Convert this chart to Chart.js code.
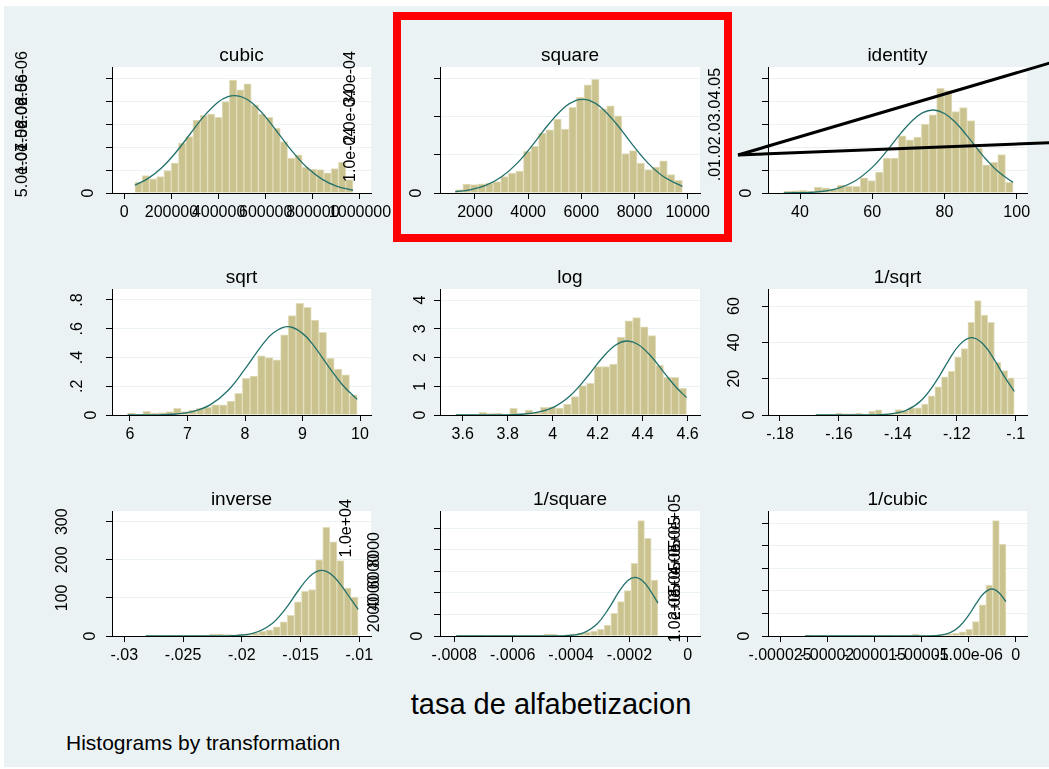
<!DOCTYPE html>
<html>
<head>
<meta charset="utf-8">
<script src="https://cdn.jsdelivr.net/npm/chart.js@4.4.0/dist/chart.umd.min.js"></script>
<style>
  html, body { margin: 0; padding: 0; background: #fff; }
  #page { position: relative; width: 1049px; height: 769px; overflow: hidden; font-family: "Liberation Sans", Arial, sans-serif; }
  #bg { position: absolute; left: 4px; top: 6px; width: 1045px; height: 761px; background: #eaf2f3; }
  canvas { position: absolute; }
  .txt { position: absolute; color: #000; white-space: nowrap; line-height: 1; }
  #xtitle { left: 551px; top: 690px; font-size: 29px; transform: translateX(-50%); }
  #note { left: 66px; top: 732px; font-size: 21px; }
  #marks { position: absolute; left: 0; top: 0; }
</style>
</head>
<body>
<div id="page">
  <div id="bg"></div>
  <div class="txt" id="xtitle">tasa de alfabetizacion</div>
  <div class="txt" id="note">Histograms by transformation</div>
  <svg id="marks" width="1049" height="769">
    <rect x="397" y="16" width="331" height="222" fill="none" stroke="#ff0000" stroke-width="8"/>
    <line x1="738" y1="155" x2="1055" y2="61.5" stroke="#000" stroke-width="3"/>
    <line x1="738" y1="155" x2="1055" y2="142.5" stroke="#000" stroke-width="3"/>
  </svg>
</div>
<script>
// histogram heights (density), bin ranges and fitted normal curves per transformation
const cubicHist = [2.3e-7, 3.8e-7, 3.1e-7, 3.6e-7, 4.9e-7, 6.5e-7, 10.9e-7, 12.3e-7, 15.9e-7, 16.9e-7,
  17.2e-7, 16.5e-7, 19.9e-7, 24.6e-7, 22.5e-7, 23.8e-7, 19.2e-7, 17.2e-7, 16.5e-7, 14.1e-7,
  11.2e-7, 7.6e-7, 8.3e-7, 5.6e-7, 5.2e-7, 5.1e-7, 4.4e-7, 5.3e-7, 6.7e-7, 2.9e-7];
const cubicRange = [44700, 970300];
const cubicCurveX = [44700, 100000, 160000, 220000, 280000, 340000, 400000, 440000, 470000, 500000, 540000, 600000, 660000, 720000, 780000, 840000, 900000, 970300];
const cubicCurveY = [1.69e-7, 3.14e-7, 5.56e-7, 8.93e-7, 12.91e-7, 16.86e-7, 19.90e-7, 21.00e-7, 21.23e-7, 20.92e-7, 19.71e-7, 16.54e-7, 12.56e-7, 8.62e-7, 5.32e-7, 2.98e-7, 1.51e-7, 0.60e-7];

const squareHist = [0.9e-5, 2.3e-5, 2.2e-5, 2.4e-5, 2.6e-5, 3.0e-5, 4.3e-5, 5.2e-5, 5.7e-5, 10.9e-5,
  12.2e-5, 15.7e-5, 16.5e-5, 19.3e-5, 16.7e-5, 22.4e-5, 25.0e-5, 28.3e-5, 29.7e-5, 22.0e-5,
  22.8e-5, 20.2e-5, 10.3e-5, 11.1e-5, 7.8e-5, 6.1e-5, 6.8e-5, 8.4e-5, 4.8e-5, 3.3e-5];
const squareRange = [1260, 9801];
const squareCurveX = [1260, 1800, 2400, 3000, 3600, 4200, 4800, 5400, 5800, 6050, 6300, 6700, 7300, 7900, 8500, 9100, 9801];
const squareCurveY = [0.33e-5, 0.81e-5, 1.98e-5, 4.25e-5, 7.89e-5, 12.86e-5, 18.25e-5, 22.61e-5, 24.21e-5, 24.5e-5, 24.21e-5, 22.61e-5, 18.25e-5, 12.86e-5, 7.89e-5, 4.25e-5, 1.73e-5];

const identityHist = [.0007, .0010, .0012, .0007, .0026, .0023, .0017, .0035, .0029, .0029,
  .0066, .0055, .0092, .0153, .0153, .0251, .0233, .0245, .0302, .0343,
  .0459, .0449, .0357, .0375, .0318, .0197, .0124, .0134, .0168, .0047];
const identityRange = [35.5, 99];
const identityCurveX = [35.5, 44, 50, 55, 60, 64, 68, 71, 74, 77, 80, 83, 86, 89, 92, 95, 99];
const identityCurveY = [.00003, .00041, .00183, .00503, .01124, .01836, .02636, .03161, .03524, .0364, .03488, .03101, .02561, .01957, .01391, .00918, .00467];

const sqrtHist = [.012, .004, .026, .012, .016, .023, .046, .023, .035, .046,
  .053, .070, .070, .097, .151, .255, .271, .411, .399, .383,
  .557, .691, .777, .749, .661, .575, .394, .32, .28, .14];
const sqrtRange = [5.958, 9.950];
const sqrtCurveX = [5.958, 6.4, 6.8, 7.1, 7.4, 7.7, 8.0, 8.3, 8.5, 8.75, 9.0, 9.2, 9.45, 9.7, 9.95];
const sqrtCurveY = [.0001, .0009, .0070, .0251, .0724, .1692, .3203, .4875, .5736, .6146, .5678, .4789, .3390, .2068, .1089];

const logHist = [.03, .01, .01, .09, .05, .06, .03, .23, .05, .17,
  .09, .27, .28, .24, .38, .64, 1.02, 1.10, 1.68, 1.68,
  1.77, 2.70, 3.28, 3.39, 3.07, 2.76, 1.73, 1.31, 1.31, .93];
const logRange = [3.5695, 4.5951];
const logCurveX = [3.5695, 3.7, 3.8, 3.9, 4.0, 4.08, 4.16, 4.22, 4.28, 4.33, 4.38, 4.44, 4.5, 4.55, 4.5951];
const logCurveY = [0, .0007, .0072, .0532, .2594, .6865, 1.390, 1.982, 2.434, 2.574, 2.454, 2.017, 1.429, .957, .609];

const invSqrtHist = [.5, .5, .5, 1, .7, .7, 1, .5, 2, 2.8,
  .7, 1, 3, 2.5, 4, 4, 6, 10.5, 15.5, 21,
  24, 32, 36.5, 51, 63, 55, 51, 29, 24.5, 20.5];
const invSqrtRange = [-.16784, -.100504];
const invSqrtCurveX = [-.16784, -.16, -.15, -.143, -.137, -.132, -.127, -.123, -.119, -.115, -.111, -.107, -.104, -.100504];
const invSqrtCurveY = [0, 0, .039, .483, 2.667, 8.12, 18.60, 29.41, 38.76, 42.56, 38.97, 29.75, 21.54, 13.0];

const inverseHist = [2, 1.5, 0, 1, 2, 0, 1.5, 2, .5, 5,
  4.5, 4, 3, 5, 6, 8, 12, 16, 24, 37,
  54, 90, 117, 122, 200, 285, 247, 198, 126, 102];
const inverseRange = [-.028169, -.010101];
const inverseCurveX = [-.028169, -.024, -.021, -.019, -.0175, -.0163, -.0152, -.0143, -.0135, -.0128, -.0121, -.0114, -.0107, -.010101];
const inverseCurveY = [0, .003, .60, 7.51, 30.8, 70.6, 118.8, 153.9, 170.8, 169.6, 153.7, 127.1, 95.9, 70.2];

const invSquareHist = [60, 0, 60, 30, 0, 60, 60, 60, 30, 60,
  50, 40, 60, 180, 150, 60, 120, 190, 250, 340,
  460, 620, 1020, 2100, 3190, 4210, 6750, 10710, 9070, 5200];
const invSquareRange = [-7.935e-4, -1.0203e-4];
const invSquareCurveX = [-7.935e-4, -6e-4, -5e-4, -4.2e-4, -3.6e-4, -3.1e-4, -2.7e-4, -2.35e-4, -2.05e-4, -1.8e-4, -1.55e-4, -1.3e-4, -1.0203e-4];
const invSquareCurveY = [0, 0, .4, 26, 270, 1143, 2586, 4134, 5157, 5450, 5126, 4292, 3059];

const invCubicHist = [4000, 0, 4000, 0, 0, 0, 0, 0, 3000, 3000,
  0, 3000, 3000, 0, 3000, 3000, 8000, 3000, 3000, 4000,
  6000, 9000, 12000, 18000, 30000, 64000, 138000, 226000, 512000, 408000];
const invCubicRange = [-2.2352e-5, -1.0306e-6];
const invCubicCurveX = [-2.2352e-5, -1.4e-5, -1.1e-5, -9.5e-6, -8e-6, -7e-6, -6e-6, -5e-6, -4.2e-6, -3.4e-6, -2.55e-6, -1.8e-6, -1.0306e-6];
const invCubicCurveY = [0, 0, 12, 282, 3607, 13850, 40820, 91530, 143400, 188800, 208500, 193300, 152500];

// axis ticks and their labels
const cubicXTicks = [0, 200000, 400000, 600000, 800000, 1000000];
const cubicXLabels = ['0', '200000', '400000', '600000', '800000', '1000000'];
const cubicYTicks = [0, 5e-7, 1e-6, 1.5e-6, 2e-6, 2.5e-6];
const cubicYLabels = ['0', '5.0e-07', '1.0e-06', '1.5e-06', '2.0e-06', '2.5e-06'];
const squareXTicks = [2000, 4000, 6000, 8000, 10000];
const squareXLabels = ['2000', '4000', '6000', '8000', '10000'];
const squareYTicks = [0, 1e-4, 2e-4, 3e-4];
const squareYLabels = ['0', '1.0e-04', '2.0e-04', '3.0e-04'];
const identityXTicks = [40, 60, 80, 100];
const identityXLabels = ['40', '60', '80', '100'];
const identityYTicks = [0, .01, .02, .03, .04, .05];
const identityYLabels = ['0', '.01', '.02', '.03', '.04', '.05'];
const sqrtXTicks = [6, 7, 8, 9, 10];
const sqrtXLabels = ['6', '7', '8', '9', '10'];
const sqrtYTicks = [0, .2, .4, .6, .8];
const sqrtYLabels = ['0', '.2', '.4', '.6', '.8'];
const logXTicks = [3.6, 3.8, 4, 4.2, 4.4, 4.6];
const logXLabels = ['3.6', '3.8', '4', '4.2', '4.4', '4.6'];
const logYTicks = [0, 1, 2, 3, 4];
const logYLabels = ['0', '1', '2', '3', '4'];
const invSqrtXTicks = [-.18, -.16, -.14, -.12, -.1];
const invSqrtXLabels = ['-.18', '-.16', '-.14', '-.12', '-.1'];
const invSqrtYTicks = [0, 20, 40, 60];
const invSqrtYLabels = ['0', '20', '40', '60'];
const inverseXTicks = [-.03, -.025, -.02, -.015, -.01];
const inverseXLabels = ['-.03', '-.025', '-.02', '-.015', '-.01'];
const inverseYTicks = [0, 100, 200, 300];
const inverseYLabels = ['0', '100', '200', '300'];
const invSquareXTicks = [-.0008, -.0006, -.0004, -.0002, 0];
const invSquareXLabels = ['-.0008', '-.0006', '-.0004', '-.0002', '0'];
const invSquareYTicks = [0, 2000, 4000, 6000, 8000, 10000];
const invSquareYLabels = ['0', '2000', '4000', '6000', '8000', '1.0e+04'];
const invCubicXTicks = [-.000025, -.00002, -.000015, -.00001, -.000005, 0];
const invCubicXLabels = ['-.000025', '-.00002', '-.000015', '-.00001', '-5.00e-06', '0'];
const invCubicYTicks = [0, 1e5, 2e5, 3e5, 4e5, 5e5];
const invCubicYLabels = ['0', '1.0e+05', '2.0e+05', '3.0e+05', '4.0e+05', '5.0e+05'];

const FONT = '"Liberation Sans", Arial, sans-serif';
const BAR_FILL = '#cac38f';
const BAR_EDGE = '#e2ddbc';
const CURVE = '#23716b';
const GRID = '#eaf2f3';

// plot boxes (page pixels) and axis extents for each panel
const panels = [
  { title: 'cubic', box: [112, 67, 371, 193], x: [-52200, 1046700], yMax: 2.746e-6,
    hist: cubicHist, range: cubicRange, cx: cubicCurveX, cy: cubicCurveY,
    xt: cubicXTicks, xl: cubicXLabels, yt: cubicYTicks, yl: cubicYLabels, yOff: [23, 89, 89, 89, 89, 89] },
  { title: 'square', box: [440, 67, 700, 193], x: [684, 10463], yMax: 3.295e-4,
    hist: squareHist, range: squareRange, cx: squareCurveX, cy: squareCurveY,
    xt: squareXTicks, xl: squareXLabels, yt: squareYTicks, yl: squareYLabels, yOff: [23, 89, 89, 89] },
  { title: 'identity', box: [768, 67, 1027, 193], x: [31.14, 102.85], yMax: .05525,
    hist: identityHist, range: identityRange, cx: identityCurveX, cy: identityCurveY,
    xt: identityXTicks, xl: identityXLabels, yt: identityYTicks, yl: identityYLabels, yOff: [21, 52, 52, 52, 52, 52] },
  { title: 'sqrt', box: [112, 289, 371, 415], x: [5.687, 10.191], yMax: .8765,
    hist: sqrtHist, range: sqrtRange, cx: sqrtCurveX, cy: sqrtCurveY,
    xt: sqrtXTicks, xl: sqrtXLabels, yt: sqrtYTicks, yl: sqrtYLabels, yOff: [20, 34, 34, 34, 34] },
  { title: 'log', box: [440, 289, 700, 415], x: [3.499, 4.655], yMax: 4.383,
    hist: logHist, range: logRange, cx: logCurveX, cy: logCurveY,
    xt: logXTicks, xl: logXLabels, yt: logYTicks, yl: logYLabels, yOff: [19, 19, 19, 19, 19] },
  { title: '1/sqrt', box: [768, 289, 1027, 415], x: [-.18407, -.096164], yMax: 69.36,
    hist: invSqrtHist, range: invSqrtRange, cx: invSqrtCurveX, cy: invSqrtCurveY,
    xt: invSqrtXTicks, xl: invSqrtXLabels, yt: invSqrtYTicks, yl: invSqrtYLabels, yOff: [18, 33, 33, 33] },
  { title: 'inverse', box: [112, 511, 371, 636], x: [-.031047, -.009004], yMax: 328.1,
    hist: inverseHist, range: inverseRange, cx: inverseCurveX, cy: inverseCurveY,
    xt: inverseXTicks, xl: inverseXLabels, yt: inverseYTicks, yl: inverseYLabels, yOff: [21, 49, 49, 49] },
  { title: '1/square', box: [440, 511, 700, 636], x: [-.000849, .0000422], yMax: 11606,
    hist: invSquareHist, range: invSquareRange, cx: invSquareCurveX, cy: invSquareCurveY,
    xt: invSquareXTicks, xl: invSquareXLabels, yt: invSquareYTicks, yl: invSquareYLabels, yOff: [22, 65, 65, 65, 65, 93] },
  { title: '1/cubic', box: [768, 511, 1027, 636], x: [-2.6273e-5, 1.199e-6], yMax: 554570,
    hist: invCubicHist, range: invCubicRange, cx: invCubicCurveX, cy: invCubicCurveY,
    xt: invCubicXTicks, xl: invCubicXLabels, yt: invCubicYTicks, yl: invCubicYLabels, yOff: [23, 92, 92, 92, 92, 92] }
];

const LEFT = 110, RIGHT = 60, TOP = 45, BOTTOM = 45;
const TITLE_SIZE = 19;

// white plot region behind the bars
const plotFill = {
  id: 'plotFill',
  beforeDraw(chart) {
    const { ctx, chartArea: a } = chart;
    ctx.save();
    ctx.fillStyle = '#fff';
    ctx.fillRect(a.left, a.top, a.right - a.left, a.bottom - a.top);
    ctx.restore();
  }
};

// vertical y tick labels, each at its own distance from the axis
const yLabels = {
  id: 'yLabels',
  afterDraw(chart, args, opts) {
    const { ctx, chartArea } = chart;
    const scale = chart.scales.y;
    ctx.save();
    ctx.fillStyle = '#000';
    ctx.font = '16px ' + FONT;
    ctx.textAlign = 'center';
    ctx.textBaseline = 'middle';
    opts.values.forEach((v, i) => {
      ctx.save();
      ctx.translate(chartArea.left - opts.offsets[i], scale.getPixelForValue(v));
      ctx.rotate(-Math.PI / 2);
      ctx.fillText(opts.labels[i], 0, 0);
      ctx.restore();
    });
    ctx.restore();
  }
};

function binPoints(heights, range) {
  const w = (range[1] - range[0]) / heights.length;
  return heights.map((h, i) => ({ x: range[0] + w * (i + 0.5), y: h }));
}

const page = document.getElementById('page');
const marks = document.getElementById('marks');

panels.forEach(p => {
  const [L, T, R, B] = p.box;
  const canvas = document.createElement('canvas');
  canvas.width = LEFT + (R - L) + RIGHT;
  canvas.height = TOP + (B - T) + BOTTOM;
  canvas.style.left = (L - LEFT) + 'px';
  canvas.style.top = (T - TOP) + 'px';
  page.insertBefore(canvas, marks);

  new Chart(canvas, {
    type: 'bar',
    data: {
      datasets: [
        {
          type: 'line',
          data: p.cx.map((x, i) => ({ x: x, y: p.cy[i] })),
          borderColor: CURVE,
          borderWidth: 1.3,
          pointRadius: 0,
          tension: 0.4,
          fill: false,
          order: 0
        },
        {
          type: 'bar',
          data: binPoints(p.hist, p.range),
          backgroundColor: BAR_FILL,
          borderColor: BAR_EDGE,
          borderWidth: 1,
          barPercentage: 1,
          categoryPercentage: 1,
          order: 1
        }
      ]
    },
    options: {
      responsive: false,
      devicePixelRatio: 1,
      animation: false,
      events: [],
      layout: { padding: { left: 0, right: RIGHT, top: TOP - TITLE_SIZE * 1.2, bottom: 0 } },
      plugins: {
        legend: { display: false },
        tooltip: { enabled: false },
        title: {
          display: true,
          fullSize: false,
          text: p.title,
          color: '#000',
          font: { family: FONT, size: TITLE_SIZE, weight: 'normal' },
          padding: 0
        },
        yLabels: { values: p.yt, labels: p.yl, offsets: p.yOff }
      },
      scales: {
        x: {
          type: 'linear',
          min: p.x[0],
          max: p.x[1],
          offset: false,
          grid: { display: true, drawOnChartArea: false, drawTicks: true, tickLength: 6, tickColor: '#000', offset: false },
          border: { display: true, color: '#000', width: 1 },
          ticks: {
            autoSkip: false, maxRotation: 0, minRotation: 0, padding: 4, color: '#000',
            font: { family: FONT, size: 16 },
            callback: (v, i) => p.xl[i]
          },
          afterBuildTicks: s => { s.ticks = p.xt.map(v => ({ value: v })); },
          afterFit: s => { s.height = BOTTOM; }
        },
        y: {
          type: 'linear',
          min: 0,
          max: p.yMax,
          grid: { color: GRID, lineWidth: 1, drawTicks: true, tickLength: 6, tickColor: '#000' },
          border: { display: true, color: '#000', width: 1 },
          ticks: { display: false },
          afterBuildTicks: s => { s.ticks = p.yt.map(v => ({ value: v })); },
          afterFit: s => { s.width = LEFT; }
        }
      }
    },
    plugins: [plotFill, yLabels]
  });
});
</script>
</body>
</html>
